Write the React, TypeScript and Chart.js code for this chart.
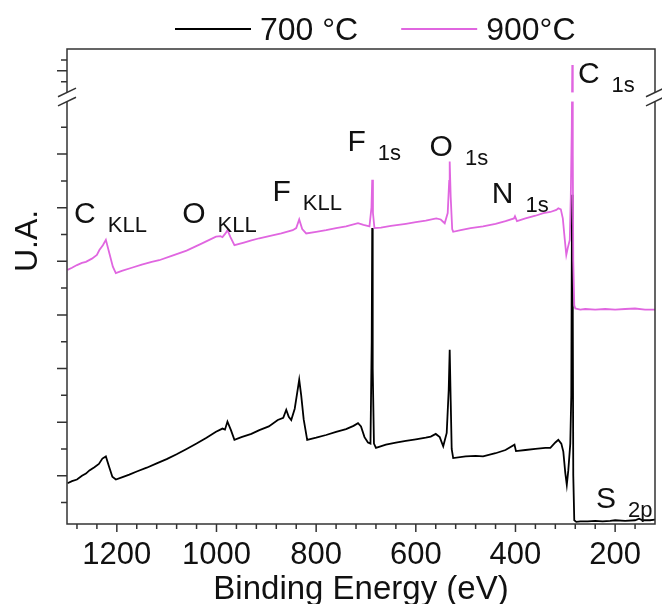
import React, { useEffect, useRef } from "react";
import { Chart, registerables } from "chart.js";

Chart.register(...registerables);

// ---------- data ----------
const SERIES_LABELS = ["700 °C", "900°C"];

const BE_700 = [
  1299, 1290, 1280, 1270, 1262, 1255, 1245, 1236, 1229, 1222, 1216, 1209, 1202,
  1190, 1175, 1160, 1140, 1120, 1100, 1080, 1060, 1040, 1020, 1001, 988, 983,
  978, 971, 964, 950, 930, 914, 895, 877, 866, 860, 855, 850, 843, 838, 834,
  830, 825, 818, 800, 780, 760, 740, 725, 716, 710, 703, 696, 691, 688.5, 687.5,
  686.5, 684, 680, 660, 640, 620, 600, 580, 570, 560, 552, 545, 538, 534, 532,
  530, 528, 525, 500, 480, 465, 440, 420, 402, 399, 380, 360, 340, 330, 320,
  314, 308, 304, 300, 297, 294, 290, 288, 286.5, 285, 284, 282, 278, 270, 255,
  240, 225, 210, 200, 180, 160, 152, 145, 130, 120,
];
const UA_700 = [
  0.86, 0.9, 0.93, 1.0, 1.04, 1.1, 1.16, 1.22, 1.32, 1.36, 1.18, 0.98, 0.93,
  0.97, 1.02, 1.08, 1.15, 1.23, 1.31, 1.4, 1.5, 1.6, 1.71, 1.82, 1.88, 1.86,
  2.01, 1.85, 1.67, 1.72, 1.78, 1.85, 1.92, 2.04, 2.08, 2.23, 2.1, 2.04, 2.25,
  2.55, 2.79, 2.5, 2.05, 1.67, 1.71, 1.76, 1.82, 1.87, 1.93, 1.98, 1.92, 1.72,
  1.62, 1.6, 3.5, 5.62, 3.0, 1.6, 1.52, 1.58, 1.62, 1.65, 1.68, 1.71, 1.73,
  1.78, 1.72, 1.55, 1.8, 2.6, 3.35, 2.4, 1.5, 1.33, 1.36, 1.37, 1.36, 1.42,
  1.48, 1.58, 1.46, 1.48, 1.5, 1.52, 1.52, 1.62, 1.67, 1.6, 1.45, 1.05, 0.83,
  1.1, 1.6, 2.5, 6.24, 4.0, 1.0, 0.17, 0.14, 0.15, 0.15, 0.16, 0.15, 0.16,
  0.17, 0.16, 0.17, 0.2, 0.17, 0.17, 0.18,
];

const BE_900 = [
  1299, 1290, 1280, 1270, 1262, 1250, 1240, 1235, 1228, 1222, 1215, 1208, 1202,
  1190, 1170, 1150, 1130, 1115, 1090, 1060, 1030, 1001, 992, 988, 982, 978,
  972, 964, 945, 930, 914, 890, 870, 847, 840, 834, 828, 820, 800, 780, 760,
  740, 716, 705, 693, 689, 687.5, 686, 683, 670, 650, 620, 600, 580, 559, 550,
  542, 536, 533, 532, 530, 527, 525, 510, 490, 465, 440, 420, 403, 401, 397,
  380, 360, 344, 330, 318, 314, 309, 305, 301, 298, 295, 291, 289, 287, 286,
  285, 284, 282, 280, 270, 260, 240, 220, 200, 180, 160, 140, 120,
];
const UA_900 = [
  4.84, 4.88, 4.93, 4.97, 4.99, 5.05, 5.12, 5.21, 5.3, 5.4, 5.15, 4.9, 4.78,
  4.82, 4.88, 4.94, 4.99, 5.02, 5.1, 5.2, 5.33, 5.46, 5.47, 5.45, 5.52, 5.58,
  5.45, 5.3, 5.35, 5.39, 5.43, 5.48, 5.52, 5.58, 5.62, 5.78, 5.6, 5.52, 5.55,
  5.58, 5.62, 5.65, 5.71, 5.68, 5.65, 6.0, 6.52, 5.9, 5.62, 5.63, 5.66, 5.7,
  5.73, 5.76, 5.8, 5.78, 5.71, 5.9, 6.5, 6.86, 6.2, 5.6, 5.55, 5.58, 5.62,
  5.65, 5.7, 5.75, 5.8, 5.84, 5.75, 5.8, 5.85, 5.9, 5.92, 5.96, 5.99, 5.97,
  5.8, 5.4, 5.12, 5.25, 5.4, 6.2, 7.5, 8.66, 7.0, 5.0, 4.18, 4.12, 4.1, 4.11,
  4.1, 4.11, 4.1, 4.11, 4.12, 4.1, 4.1,
];

const X_TICKS = [1200, 1000, 800, 600, 400, 200];
const X_MINOR = [
  1280, 1240, 1160, 1120, 1080, 1040, 960, 920, 880, 840, 760, 720, 680, 640,
  560, 520, 480, 440, 360, 320, 280, 240, 160,
];
const Y_MAJOR = [1, 2, 3, 4, 5, 6, 7, 8.556];
const Y_MINOR = [0.5, 1.5, 2.5, 3.5, 4.5, 5.5, 6.5, 7.5, 8.351, 8.756];
const Y_BREAK = [7.98, 8.15];

const PEAK_MAIN = ["C", "O", "F", "F", "O", "N", "C", "S"];
const PEAK_SUB = ["KLL", "KLL", "KLL", "1s", "1s", "1s", "1s", "2p"];
const PEAK_BE = [1285.8, 1068.7, 887.8, 737, 572.3, 447.6, 274.7, 238.6];
const PEAK_UA = [5.715, 5.715, 6.125, 7.06, 6.955, 6.09, 8.33, 0.397];

// ---------- styles ----------
const FONT = "'Liberation Sans', Arial, Helvetica, sans-serif";
const AXIS_COLOR = "#333333";
const TEXT_COLOR = "#111111";
const COLORS = ["#000000", "#E066E0"];

const decorPlugin = {
  id: "decor",
  afterDraw(chart: any) {
    const { ctx, chartArea: ca, scales } = chart;
    const xs = scales.x;
    const ys = scales.y;
    const yHi = ys.getPixelForValue(Y_BREAK[1]);
    const yLo = ys.getPixelForValue(Y_BREAK[0]);
    ctx.save();

    // break gap through the data
    ctx.fillStyle = "#ffffff";
    ctx.fillRect(ca.left + 1, yHi, ca.right - ca.left - 2, yLo - yHi);

    // frame
    ctx.strokeStyle = AXIS_COLOR;
    ctx.lineWidth = 1.5;
    ctx.beginPath();
    ctx.moveTo(ca.left, yHi);
    ctx.lineTo(ca.left, ca.top);
    ctx.lineTo(ca.right, ca.top);
    ctx.lineTo(ca.right, yHi);
    ctx.moveTo(ca.left, yLo);
    ctx.lineTo(ca.left, ca.bottom);
    ctx.lineTo(ca.right, ca.bottom);
    ctx.lineTo(ca.right, yLo);
    ctx.stroke();

    // break marks
    ctx.beginPath();
    for (const x of [ca.left, ca.right]) {
      for (const y of [yHi, yLo]) {
        ctx.moveTo(x - 9, y + 4.3);
        ctx.lineTo(x + 9, y - 4.3);
      }
    }
    ctx.stroke();

    // ticks
    ctx.beginPath();
    for (const v of Y_MAJOR) {
      const p = ys.getPixelForValue(v);
      ctx.moveTo(ca.left - 10, p);
      ctx.lineTo(ca.left, p);
    }
    for (const v of Y_MINOR) {
      const p = ys.getPixelForValue(v);
      ctx.moveTo(ca.left - 6, p);
      ctx.lineTo(ca.left, p);
    }
    for (const v of X_TICKS) {
      const p = xs.getPixelForValue(v);
      ctx.moveTo(p, ca.bottom);
      ctx.lineTo(p, ca.bottom + 8);
    }
    for (const v of X_MINOR) {
      const p = xs.getPixelForValue(v);
      ctx.moveTo(p, ca.bottom);
      ctx.lineTo(p, ca.bottom + 5);
    }
    ctx.stroke();

    // peak labels
    ctx.fillStyle = TEXT_COLOR;
    ctx.textAlign = "left";
    ctx.textBaseline = "alphabetic";
    for (let i = 0; i < PEAK_MAIN.length; i++) {
      const px = xs.getPixelForValue(PEAK_BE[i]);
      const py = ys.getPixelForValue(PEAK_UA[i]);
      ctx.font = `30px ${FONT}`;
      ctx.fillText(PEAK_MAIN[i], px, py);
      const w = ctx.measureText(PEAK_MAIN[i]).width;
      ctx.font = `22px ${FONT}`;
      ctx.fillText(PEAK_SUB[i], px + w + 12, py + 9);
    }

    // y-axis title
    ctx.save();
    ctx.translate(28, 241);
    ctx.rotate(-Math.PI / 2);
    ctx.font = `32px ${FONT}`;
    ctx.textAlign = "center";
    ctx.textBaseline = "middle";
    ctx.fillText("U.A.", 0, 0);
    ctx.restore();

    // legend
    let lx = 175;
    const ly = 29;
    ctx.font = `32px ${FONT}`;
    ctx.textBaseline = "alphabetic";
    chart.data.datasets.forEach((ds: any) => {
      ctx.strokeStyle = ds.borderColor;
      ctx.lineWidth = 2;
      ctx.beginPath();
      ctx.moveTo(lx, ly);
      ctx.lineTo(lx + 76, ly);
      ctx.stroke();
      ctx.fillStyle = TEXT_COLOR;
      ctx.fillText(ds.label, lx + 85, ly + 11);
      lx = lx + 85 + ctx.measureText(ds.label).width + 43;
    });

    ctx.restore();
  },
};

export default function App() {
  const ref = useRef<HTMLCanvasElement | null>(null);

  useEffect(() => {
    if (!ref.current) return;
    const mk = (xs: number[], ys: number[]) => xs.map((x, i) => ({ x, y: ys[i] }));
    const chart = new Chart(ref.current, {
      type: "line",
      data: {
        datasets: [
          {
            label: SERIES_LABELS[0],
            data: mk(BE_700, UA_700),
            borderColor: COLORS[0],
            borderWidth: 1.8,
            pointRadius: 0,
            tension: 0,
            order: 1,
          },
          {
            label: SERIES_LABELS[1],
            data: mk(BE_900, UA_900),
            borderColor: COLORS[1],
            borderWidth: 1.8,
            pointRadius: 0,
            tension: 0,
            order: 0,
          },
        ],
      },
      options: {
        animation: false,
        responsive: false,
        devicePixelRatio: 1,
        layout: { padding: { top: 49, right: 7, left: 0, bottom: 0 } },
        plugins: { legend: { display: false }, tooltip: { enabled: false } },
        scales: {
          x: {
            type: "linear",
            reverse: true,
            min: 120,
            max: 1300,
            afterBuildTicks: (s: any) => {
              s.ticks = X_TICKS.map((value) => ({ value }));
            },
            afterFit: (s: any) => {
              s.height = 80;
            },
            grid: { display: false, drawTicks: false },
            border: { display: false },
            ticks: {
              autoSkip: false,
              maxRotation: 0,
              minRotation: 0,
              padding: 13,
              color: TEXT_COLOR,
              font: { size: 31, family: FONT },
              callback: (v: any) => String(v),
            },
            title: {
              display: true,
              text: "Binding Energy (eV)",
              color: TEXT_COLOR,
              padding: 0,
              font: { size: 33, family: FONT, lineHeight: 0.85 },
            },
          },
          y: {
            type: "linear",
            min: 0.1,
            max: 8.96,
            afterFit: (s: any) => {
              s.width = 67;
            },
            grid: { display: false, drawTicks: false },
            border: { display: false },
            ticks: { display: false },
          },
        },
      },
      plugins: [decorPlugin],
    });
    return () => chart.destroy();
  }, []);

  return (
    <div style={{ position: "fixed", left: 0, top: 0, width: 662, height: 604, background: "#fff" }}>
      <canvas ref={ref} width={662} height={604} />
    </div>
  );
}
